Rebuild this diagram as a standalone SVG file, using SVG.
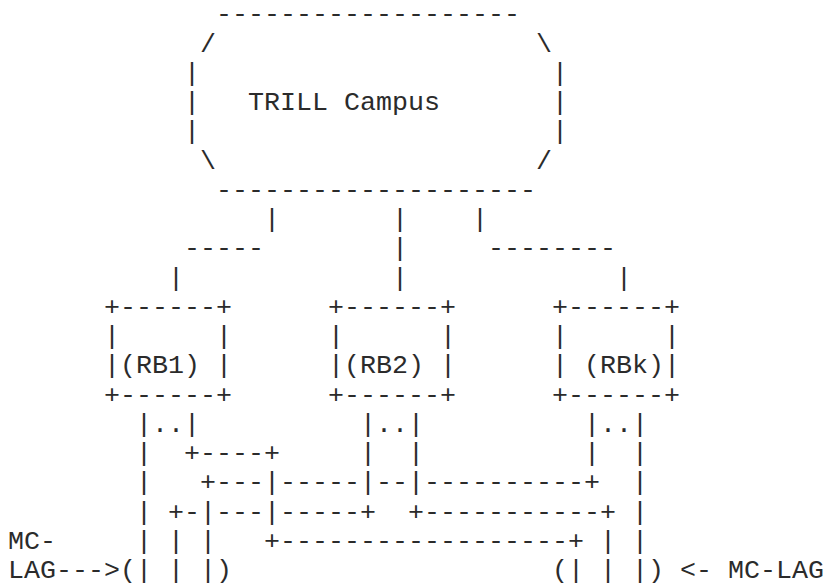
<svg xmlns="http://www.w3.org/2000/svg" width="826" height="585" viewBox="0 0 826 585" xml:space="preserve">
<style>
text { font-family: "Liberation Mono", "Courier New", monospace; font-size: 26.667px; fill: #2b2b2b; white-space: pre; }
</style>
<rect width="826" height="585" fill="#ffffff"/>
<g id="campus">
<text x="216" y="22.25">-------------------</text>
<text x="200" y="51.5">/</text><text x="536" y="51.5">\</text>
<text x="184" y="80.75">|</text><text x="552" y="80.75">|</text>
<text x="184" y="110">|</text><text x="248" y="110">TRILL Campus</text><text x="552" y="110">|</text>
<text x="184" y="139.25">|</text><text x="552" y="139.25">|</text>
<text x="200" y="168.5">\</text><text x="536" y="168.5">/</text>
<text x="216" y="197.75">--------------------</text>
</g>
<g id="rb1">
<text x="104" y="314.75">+------+</text>
<text x="104" y="344">|      |</text>
<text x="104" y="373.25">|(RB1) |</text>
<text x="104" y="402.5">+------+</text>
</g>
<g id="rb2">
<text x="328" y="314.75">+------+</text>
<text x="328" y="344">|      |</text>
<text x="328" y="373.25">|(RB2) |</text>
<text x="328" y="402.5">+------+</text>
</g>
<g id="rbk">
<text x="552" y="314.75">+------+</text>
<text x="552" y="344">|      |</text>
<text x="552" y="373.25">| (RBk)|</text>
<text x="552" y="402.5">+------+</text>
</g>
<g id="connectors">
<text x="264" y="227">|       |    |</text>
<text x="184" y="256.25">-----        |     --------</text>
<text x="168" y="285.5">|             |             |</text>
<text x="136" y="431.75">|..|          |..|          |..|</text>
<text x="136" y="461">|  +----+     |  |          |  |</text>
<text x="136" y="490.25">|   +---|-----|--|----------+  |</text>
<text x="136" y="519.5">| +-|---|-----+  +-----------+ |</text>
<text x="136" y="548.75">| | |   +------------------+ | |</text>
<text x="120" y="578">(| | |)</text>
<text x="552" y="578">(| | |)</text>
</g>
<g id="labels">
<text x="8" y="548.75">MC-</text>
<text x="8" y="578">LAG---&gt;</text>
<text x="664" y="578"> &lt;- MC-LAG</text>
</g>
</svg>
